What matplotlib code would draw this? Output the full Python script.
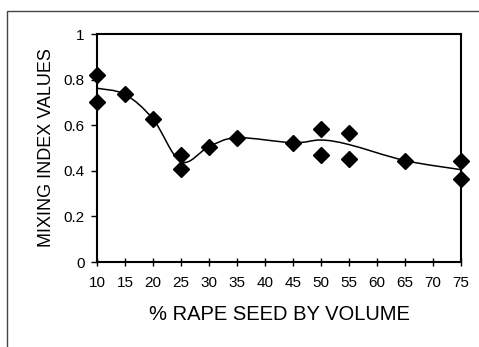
import matplotlib.pyplot as plt
from matplotlib.path import Path
from matplotlib.patches import PathPatch, Rectangle

plt.rcParams['font.family'] = ['Liberation Sans', 'DejaVu Sans']

# measured mixing index values (two runs at some blends)
rape_pct = [10, 10, 15, 20, 25, 25, 30, 35, 45, 50, 50, 55, 55, 65, 75, 75]
mixing_index = [0.82, 0.70, 0.735, 0.627, 0.469, 0.408, 0.506, 0.542,
                0.523, 0.583, 0.469, 0.567, 0.453, 0.443, 0.443, 0.364]

# smoothed trend line through the mean values
trend_x = [10, 15, 20, 25, 30, 35, 45, 50, 55, 65, 75]
trend_y = [0.762, 0.735, 0.627, 0.44, 0.506, 0.545, 0.523, 0.535, 0.515, 0.445, 0.405]

x_ticks = list(range(10, 80, 5))
y_ticks = [0, 0.2, 0.4, 0.6, 0.8, 1]


def smooth_path(xs, ys):
    # excel-like smoothed line: cubic bezier with catmull-rom control points
    pts = list(zip(xs, ys))
    verts = [pts[0]]
    codes = [Path.MOVETO]
    n = len(pts)
    for i in range(n - 1):
        p0 = pts[max(i - 1, 0)]
        p1 = pts[i]
        p2 = pts[i + 1]
        p3 = pts[min(i + 2, n - 1)]
        c1 = (p1[0] + (p2[0] - p0[0]) / 6, p1[1] + (p2[1] - p0[1]) / 6)
        c2 = (p2[0] - (p3[0] - p1[0]) / 6, p2[1] - (p3[1] - p1[1]) / 6)
        verts += [c1, c2, p2]
        codes += [Path.CURVE4] * 3
    return Path(verts, codes)


fig = plt.figure(figsize=(4.79, 3.47), dpi=100)
ax = fig.add_axes([97 / 479, 1 - 262 / 347, 364 / 479, 228 / 347])

ax.add_patch(PathPatch(smooth_path(trend_x, trend_y), fill=False,
                       edgecolor='black', linewidth=1.1, zorder=2))
ax.plot(rape_pct, mixing_index, linestyle='none', marker='D', markersize=8.5,
        color='black', clip_on=False, zorder=3)

ax.set_xlim(10, 75)
ax.set_ylim(0, 1)
ax.set_xticks(x_ticks)
ax.set_yticks(y_ticks)
ax.set_yticklabels(['0', '0.2', '0.4', '0.6', '0.8', '1'])
ax.tick_params(axis='x', direction='inout', length=6, width=1, pad=7, labelsize=11)
ax.tick_params(axis='y', direction='out', length=4, width=1, pad=5, labelsize=11)
for s in ax.spines.values():
    s.set_linewidth(1.5)

ax.set_xlabel('% RAPE SEED BY VOLUME', fontsize=14.5)
ax.set_ylabel('MIXING INDEX VALUES', fontsize=13)
ax.xaxis.set_label_coords(0.5, -0.19)
ax.yaxis.set_label_coords(-0.115, 0.5)

# outer chart border (partly cropped in the original)
fig.patches.append(Rectangle((7 / 479, -0.1), 1.2, 1.1 - 11 / 347,
                             transform=fig.transFigure, fill=False,
                             edgecolor='#444444', linewidth=1))

fig.savefig('out.png', dpi=100)
